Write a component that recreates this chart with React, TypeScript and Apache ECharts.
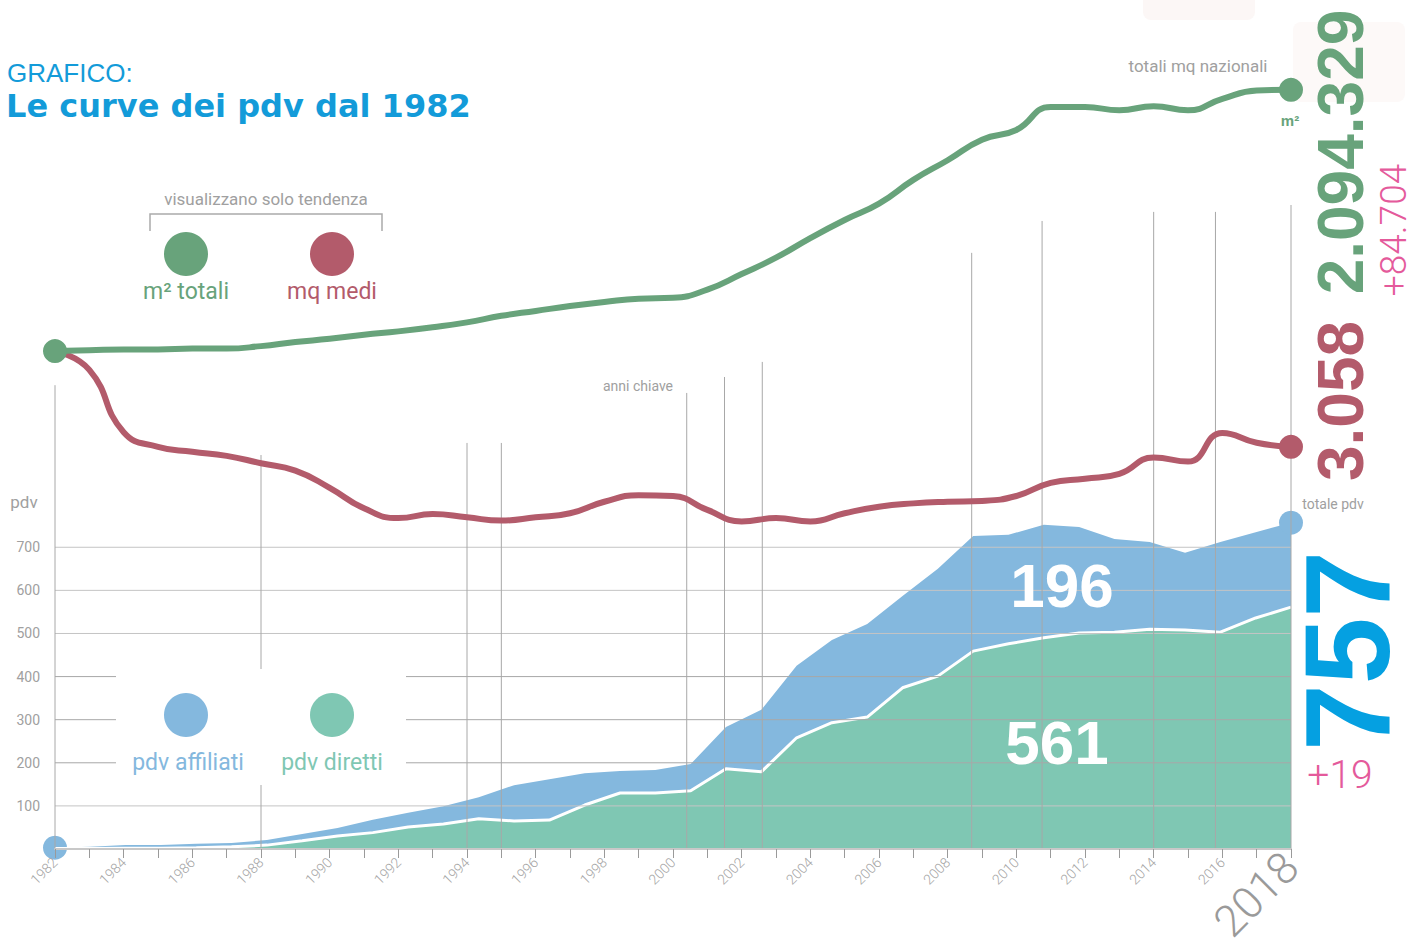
import React, { useEffect, useRef } from 'react';
import * as echarts from 'echarts';

// ---- data ----
const years = [1982, 1983, 1984, 1985, 1986, 1987, 1988, 1989, 1990, 1991, 1992, 1993, 1994, 1995, 1996, 1997, 1998, 1999, 2000, 2001, 2002, 2003, 2004, 2005, 2006, 2007, 2008, 2009, 2010, 2011, 2012, 2013, 2014, 2015, 2016, 2017, 2018];
// trend-only indices (0-100), "visualizzano solo tendenza"
const mqTotaliTrend = [60.8, 60.9, 61.0, 61.0, 61.1, 61.1, 61.4, 61.9, 62.3, 62.8, 63.2, 63.7, 64.3, 65.1, 65.7, 66.3, 66.8, 67.2, 67.3, 68.3, 70.2, 72.2, 74.6, 76.8, 78.8, 81.7, 84.1, 86.6, 87.8, 90.6, 90.6, 90.2, 90.7, 90.2, 91.6, 92.6, 92.7];
const mqMediTrend = [60.8, 58.5, 50.9, 49.1, 48.5, 48.0, 47.1, 46.2, 44.1, 41.6, 40.4, 40.9, 40.5, 40.1, 40.5, 41.0, 42.4, 43.2, 43.1, 41.4, 40.0, 40.4, 40.0, 41.0, 41.8, 42.2, 42.4, 42.5, 43.1, 44.7, 45.2, 45.8, 47.8, 47.3, 50.8, 49.6, 49.1];

const pdvPeriods = ['1983', '1984', '1985', '1986', '1987', '1988', '1989', '1990', '1991', '1992', '1993', '1994', '1995', '1996', '1997', '1998', '1999', '2000', '2001', '2002', '2003', '2004', '2005', '2006', '2007', '2008', '2009', '2010', '2011', '2012', '2013', '2014', '2015', '2016', '2017', '2018'];
const pdvDiretti = [1, 1, 2, 2, 3, 5, 9, 19, 30, 38, 51, 58, 70, 65, 67, 102, 130, 130, 135, 186, 179, 258, 293, 306, 374, 401, 459, 476, 490, 501, 503, 510, 508, 503, 536, 561];
const pdvAffiliati = [2, 4, 7, 7, 9, 9, 12, 16, 19, 30, 33, 41, 50, 83, 95, 74, 51, 53, 62, 97, 144, 167, 192, 216, 213, 249, 267, 253, 262, 246, 216, 202, 179, 209, 199, 196];

const pdvTicks = [100, 200, 300, 400, 500, 600, 700];
const keyYears = [1982, 1988, 1994, 1995, 2000.4, 2001.5, 2002.6, 2008.7, 2010.75, 2014, 2015.8, 2018];
const keyLineTops = [1076, 914, 942, 942, 1058, 1095, 1130, 1383, 1457, 1478, 1478, 1494];

// ---- styles ----
const C_GREEN_LINE = '#68a37b';
const C_RED = '#b35b6b';
const C_BLUE_AREA = '#84b8de';
const C_GREEN_AREA = '#7fc7b3';
const C_TITLE = '#139bd9';
const C_BIG_BLUE = '#05a0e1';
const C_PINK = '#e45a9b';
const C_GREY = '#9a9a9a';
const LIGHT = "Roboto, 'Liberation Sans', sans-serif";
const BOLD = "'Liberation Sans', Arial, sans-serif";

function txt(text: string, x: number, y: number, o: any = {}) {
  return {
    type: 'text',
    x,
    y,
    rotation: o.rotation || 0,
    z: 100,
    silent: true,
    style: {
      text,
      fill: o.fill || C_GREY,
      fontSize: o.fontSize || 16,
      fontFamily: o.fontFamily || LIGHT,
      fontWeight: o.fontWeight || 'normal',
      align: o.align || 'center',
      textAlign: o.align || 'center',
      verticalAlign: o.vAlign || 'middle',
      textVerticalAlign: o.vAlign || 'middle',
    },
  };
}

function circle(cx: number, cy: number, r: number, fill: string) {
  return { type: 'circle', z: 100, silent: true, shape: { cx, cy, r }, style: { fill } };
}

export default function App() {
  const ref = useRef<HTMLDivElement>(null);

  useEffect(() => {
    if (!ref.current) return;
    const chart = echarts.init(ref.current, null, { renderer: 'svg' });
    const first = years[0];
    const last = years[years.length - 1];
    const lastP = pdvPeriods.length - 1;

    const option: any = {
      animation: false,
      backgroundColor: '#ffffff',
      grid: {
        left: 55,
        right: 130,
        top: 30,
        bottom: 101,
        containLabel: false,
        outerBoundsMode: 'none',
      },
      xAxis: [
        {
          type: 'value',
          min: first,
          max: last,
          interval: 1,
          z: 10,
          axisLine: { show: true, lineStyle: { color: '#c8c8c8', width: 2 } },
          axisTick: { show: true, length: 9, lineStyle: { color: '#9a9a9a', width: 1 } },
          splitLine: { show: false },
          axisLabel: {
            rotate: 45,
            margin: 11,
            color: '#a4a4a4',
            fontSize: 14,
            fontFamily: LIGHT,
            fontWeight: 300,
            formatter: (v: number) => {
              if (v === last) return '{big|' + v + '}';
              return v % 2 === 0 ? String(v) : '';
            },
            rich: {
              big: { fontSize: 44, color: '#9a9a9a', fontFamily: LIGHT, fontWeight: 300 },
            },
          },
        },
        {
          type: 'category',
          data: pdvPeriods,
          boundaryGap: false,
          show: false,
        },
      ],
      yAxis: [
        {
          type: 'value',
          min: 0,
          max: 1900,
          interval: 100,
          axisLine: { show: false },
          axisTick: { show: false },
          splitLine: { show: false },
          axisLabel: {
            margin: 15,
            color: '#a0a0a0',
            fontSize: 14,
            fontFamily: LIGHT,
            formatter: (v: number) => (v > 0 && v <= 700 ? String(v) : ''),
          },
        },
        { type: 'value', min: 0, max: 100, show: false },
      ],
      series: [
        {
          name: 'pdv diretti',
          type: 'line',
          xAxisIndex: 1,
          yAxisIndex: 0,
          stack: 'pdv',
          data: pdvDiretti,
          z: 3,
          symbol: 'none',
          lineStyle: { width: 3, color: '#ffffff' },
          itemStyle: { color: C_GREEN_AREA },
          areaStyle: { color: C_GREEN_AREA, opacity: 1 },
          silent: true,
        },
        {
          name: 'pdv affiliati',
          type: 'line',
          xAxisIndex: 1,
          yAxisIndex: 0,
          stack: 'pdv',
          data: pdvAffiliati,
          z: 2,
          symbol: 'circle',
          symbolSize: (_v: any, p: any) => (p.dataIndex === 0 || p.dataIndex === lastP ? 24 : 0),
          showSymbol: true,
          itemStyle: { color: C_BLUE_AREA },
          lineStyle: { width: 0, color: C_BLUE_AREA },
          areaStyle: { color: C_BLUE_AREA, opacity: 1 },
          silent: true,
        },
        {
          name: 'griglia',
          type: 'custom',
          xAxisIndex: 0,
          yAxisIndex: 0,
          z: 4,
          silent: true,
          data: pdvTicks.map((v) => [first, v]),
          renderItem: (_p: any, api: any) => {
            const v = api.value(1);
            const a = api.coord([first, v]);
            const b = api.coord([last, v]);
            return {
              type: 'line',
              shape: { x1: a[0], y1: a[1], x2: b[0], y2: b[1] },
              style: { stroke: v >= 200 && v <= 400 ? '#a8a8a8' : '#c4c4c4', lineWidth: 1 },
            };
          },
        },
        {
          name: 'anni chiave',
          type: 'custom',
          xAxisIndex: 0,
          yAxisIndex: 0,
          z: 4,
          silent: true,
          data: keyYears.map((y, i) => [y, keyLineTops[i]]),
          renderItem: (_p: any, api: any) => {
            const a = api.coord([api.value(0), api.value(1)]);
            const b = api.coord([api.value(0), 0]);
            return {
              type: 'line',
              shape: { x1: a[0], y1: a[1], x2: b[0], y2: b[1] },
              style: { stroke: '#a8a8a8', lineWidth: 1 },
            };
          },
        },
        {
          name: 'mq medi',
          type: 'line',
          xAxisIndex: 0,
          yAxisIndex: 1,
          data: years.map((y, i) => [y, mqMediTrend[i]]),
          smooth: 0.5,
          z: 6,
          symbol: 'circle',
          symbolSize: (_v: any, p: any) => (p.dataIndex === years.length - 1 ? 24 : 0),
          itemStyle: { color: C_RED },
          lineStyle: { width: 6, color: C_RED },
          silent: true,
        },
        {
          name: 'm² totali',
          type: 'line',
          xAxisIndex: 0,
          yAxisIndex: 1,
          data: years.map((y, i) => [y, mqTotaliTrend[i]]),
          smooth: 0.5,
          z: 7,
          symbol: 'circle',
          symbolSize: (_v: any, p: any) => (p.dataIndex === 0 ? 24 : p.dataIndex === years.length - 1 ? 24 : 0),
          itemStyle: { color: C_GREEN_LINE },
          lineStyle: { width: 6, color: C_GREEN_LINE },
          silent: true,
        },
      ],
      graphic: {
        elements: [
          // faint background marks top right
          { type: 'rect', z: 1, silent: true, shape: { x: 1143, y: -10, width: 112, height: 30, r: 8 }, style: { fill: '#fcf7f6' } },
          { type: 'rect', z: 1, silent: true, shape: { x: 1293, y: 22, width: 112, height: 80, r: 8 }, style: { fill: '#fdf9f8' } },
          // title
          txt('GRAFICO:', 7, 73, { fill: C_TITLE, fontSize: 26, fontWeight: 300, align: 'left', fontFamily: "'Liberation Sans', Arial, sans-serif" }),
          txt('Le curve dei pdv dal 1982', 6, 106, { fill: C_TITLE, fontSize: 32, fontWeight: 'bold', align: 'left', fontFamily: "'DejaVu Sans', Verdana, sans-serif" }),
          // trend legend
          txt('visualizzano solo tendenza', 266, 199, { fontSize: 17, fill: '#a0a0a0' }),
          {
            type: 'polyline',
            z: 100,
            silent: true,
            shape: { points: [[150, 231], [150, 214], [382, 214], [382, 231]] },
            style: { stroke: '#aaaaaa', lineWidth: 1.5, fill: null },
          },
          circle(186, 254, 22, C_GREEN_LINE),
          circle(332, 254, 22, C_RED),
          txt('m² totali', 186, 291, { fill: C_GREEN_LINE, fontSize: 23 }),
          txt('mq medi', 332, 291, { fill: C_RED, fontSize: 23 }),
          // pdv legend box
          { type: 'rect', z: 50, silent: true, shape: { x: 116, y: 669, width: 290, height: 116 }, style: { fill: '#ffffff' } },
          circle(186, 715, 22, C_BLUE_AREA),
          circle(332, 715, 22, C_GREEN_AREA),
          txt('pdv affiliati', 188, 762, { fill: C_BLUE_AREA, fontSize: 23 }),
          txt('pdv diretti', 332, 762, { fill: C_GREEN_AREA, fontSize: 23 }),
          // axis annotations
          txt('pdv', 24, 502, { fontSize: 17, fill: '#a0a0a0' }),
          txt('anni chiave', 638, 386, { fontSize: 14, fill: '#a0a0a0' }),
          txt('totali mq nazionali', 1198, 66, { fontSize: 17, fill: '#a0a0a0' }),
          txt('m²', 1290, 120, { fontSize: 15, fill: C_GREEN_LINE, fontWeight: 'bold', fontFamily: BOLD }),
          txt('totale pdv', 1333, 504, { fontSize: 14, fill: '#a0a0a0' }),
          // big values
          txt('2.094.329', 1341, 152, { rotation: Math.PI / 2, fontSize: 64, fill: C_GREEN_LINE, fontWeight: 'bold', fontFamily: BOLD }),
          txt('+84.704', 1393, 230, { rotation: Math.PI / 2, fontSize: 37, fill: C_PINK, fontWeight: 300 }),
          txt('3.058', 1341, 401, { rotation: Math.PI / 2, fontSize: 64, fill: C_RED, fontWeight: 'bold', fontFamily: BOLD }),
          txt('757', 1347, 651, { rotation: Math.PI / 2, fontSize: 120, fill: C_BIG_BLUE, fontWeight: 'bold', fontFamily: BOLD }),
          txt('+19', 1340, 775, { fontSize: 39, fill: C_PINK, fontWeight: 300 }),
          txt('196', 1062, 585, { fontSize: 62, fill: '#ffffff', fontWeight: 'bold', fontFamily: BOLD }),
          txt('561', 1057, 742, { fontSize: 62, fill: '#ffffff', fontWeight: 'bold', fontFamily: BOLD }),
        ],
      },
    };

    chart.setOption(option);
    return () => chart.dispose();
  }, []);

  return (
    <div
      ref={ref}
      style={{ position: 'absolute', left: 0, top: 0, width: 1421, height: 950, background: '#fff' }}
    />
  );
}
